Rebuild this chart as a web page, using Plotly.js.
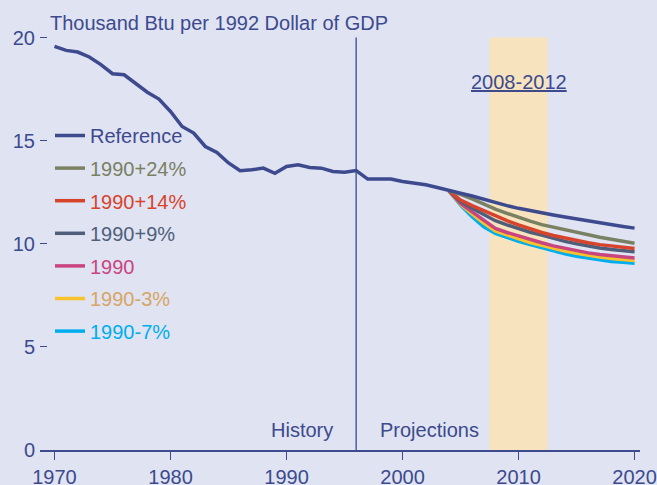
<!DOCTYPE html>
<html>
<head>
<meta charset="utf-8">
<script src="https://cdn.plot.ly/plotly-3.0.1.min.js"></script>
<style>html,body{margin:0;padding:0;background:#dfe3f2;}#chart{width:657px;height:485px;}</style>
</head>
<body>
<div id="chart"></div>
<script>
// ---- data ----
const refYears = [1970,1971,1972,1973,1974,1975,1976,1977,1978,1979,1980,1981,1982,1983,1984,1985,1986,1987,1988,1989,1990,1991,1992,1993,1994,1995,1996,1997,1998,1999,2000,2001,2002,2003,2004,2005,2006,2007,2008,2009,2010,2011,2012,2013,2014,2015,2016,2017,2018,2019,2020];
const reference = [19.58,19.38,19.30,19.06,18.69,18.25,18.20,17.80,17.35,17.02,16.42,15.69,15.37,14.72,14.43,13.92,13.54,13.59,13.67,13.42,13.75,13.83,13.70,13.67,13.51,13.47,13.55,
  13.14,13.14,13.14,13.02,12.94,12.86,12.73,12.57,12.45,12.32,12.15,11.98,11.85,11.72,11.60,11.50,11.40,11.30,11.20,11.10,11.01,10.92,10.84,10.76];
const scenYears = [2004,2005,2006,2007,2008,2009,2010,2011,2012,2013,2014,2015,2016,2017,2018,2019,2020];
const plus24 = [12.57,12.40,12.18,11.93,11.68,11.48,11.28,11.10,10.93,10.80,10.67,10.55,10.43,10.32,10.22,10.12,10.03];
const plus14 = [12.57,12.12,11.85,11.60,11.35,11.12,10.92,10.72,10.55,10.40,10.27,10.15,10.05,9.96,9.89,9.83,9.77];
const plus9  = [12.57,12.05,11.72,11.42,11.12,10.92,10.73,10.56,10.42,10.26,10.12,10.00,9.89,9.80,9.72,9.67,9.62];
const base1990 = [12.57,11.96,11.55,11.15,10.75,10.55,10.37,10.19,10.05,9.90,9.78,9.66,9.56,9.48,9.41,9.36,9.31];
const minus3 = [12.57,11.92,11.45,11.00,10.62,10.42,10.24,10.06,9.93,9.78,9.65,9.54,9.44,9.36,9.29,9.24,9.19];
const minus7 = [12.57,11.88,11.31,10.83,10.51,10.30,10.12,9.96,9.80,9.65,9.52,9.40,9.30,9.21,9.14,9.10,9.06];
const xTicks = [1970,1980,1990,2000,2010,2020];
const yTicks = [0,5,10,15,20];
const historyEnd = 1996;
const kyotoStart = 2007.5, kyotoEnd = 2012.5;
const kyotoLabel = '2008-2012';
const titleText = 'Thousand Btu per 1992 Dollar of GDP';

// ---- styles ----
const NAVY = '#3d4a8e';
const series = [
  {name:'1990-7%', x:scenYears, y:minus7, color:'#00aeef', text:'#00aeef', rank:7},
  {name:'1990-3%', x:scenYears, y:minus3, color:'#f8c22c', text:'#d9a565', rank:6},
  {name:'1990', x:scenYears, y:base1990, color:'#c9457f', text:'#c9457f', rank:5},
  {name:'1990+9%', x:scenYears, y:plus9, color:'#4f5f7a', text:'#4f5f7a', rank:4},
  {name:'1990+14%', x:scenYears, y:plus14, color:'#d8432c', text:'#d8432c', rank:3},
  {name:'1990+24%', x:scenYears, y:plus24, color:'#7a8062', text:'#7a8062', rank:2},
  {name:'Reference', x:refYears, y:reference, color:NAVY, text:NAVY, rank:1}
];
const traces = series.map(s => ({
  type:'scatter', mode:'lines', x:s.x, y:s.y,
  name:'<span style="color:'+s.text+'">'+s.name+'</span>',
  legendgroup:s.name, legendrank:s.rank,
  line:{color:s.color, width:3.5},
  hoverinfo:'skip'
}));

const FONT = 'Liberation Sans, Arial, sans-serif';
const layout = {
  width:657, height:485,
  paper_bgcolor:'#dfe3f2', plot_bgcolor:'#dfe3f2',
  margin:{l:40, r:17, t:17, b:35, autoexpand:false},
  font:{family:FONT, size:20, color:NAVY},
  title:{text:titleText, font:{family:FONT, size:20, color:NAVY}, xref:'container', x:50/657, xanchor:'left', yref:'container', y:1-23/485, yanchor:'middle'},
  showlegend:true,
  legend:{x:50/657, xref:'container', y:1-116/485, yref:'container', xanchor:'left', yanchor:'top', bgcolor:'rgba(0,0,0,0)', font:{family:FONT, size:20, color:NAVY}, traceorder:'grouped', tracegroupgap:3.6, itemclick:false},
  xaxis:{range:[1968.75, 2020.47], tickvals:xTicks, ticks:'outside', ticklen:8, tickwidth:1.5, tickcolor:NAVY,
    showline:true, linecolor:NAVY, linewidth:1.5, showgrid:false, zeroline:false, tickfont:{family:FONT,size:20,color:NAVY}},
  yaxis:{range:[0,21], tickvals:yTicks, ticks:'inside', ticklen:7, tickwidth:1.2, tickcolor:NAVY,
    showline:false, showgrid:false, zeroline:false, tickfont:{family:FONT,size:20,color:NAVY}, ticklabelstandoff:4},
  shapes:[
    {type:'rect', xref:'x', yref:'y', x0:kyotoStart, x1:kyotoEnd, y0:0, y1:20, fillcolor:'#f7e4be', line:{width:0}, layer:'below'},
    {type:'line', xref:'x', yref:'y', x0:historyEnd, x1:historyEnd, y0:0, y1:20, line:{color:NAVY, width:1.3}, layer:'below'}
  ],
  annotations:[
    {text:'History', x:historyEnd, y:0.97, xref:'x', yref:'y', xanchor:'right', yanchor:'middle', xshift:-21, showarrow:false, font:{family:FONT,size:20,color:NAVY}},
    {text:'Projections', x:historyEnd, y:0.97, xref:'x', yref:'y', xanchor:'left', yanchor:'middle', xshift:22, showarrow:false, font:{family:FONT,size:20,color:NAVY}},
    {text:'<u>'+kyotoLabel+'</u>', x:(kyotoStart+kyotoEnd)/2, y:17.83, xref:'x', yref:'y', xanchor:'center', yanchor:'middle', showarrow:false, font:{family:FONT,size:20,color:NAVY}}
  ]
};
Plotly.newPlot('chart', traces, layout, {displayModeBar:false, staticPlot:true});
</script>
</body>
</html>
